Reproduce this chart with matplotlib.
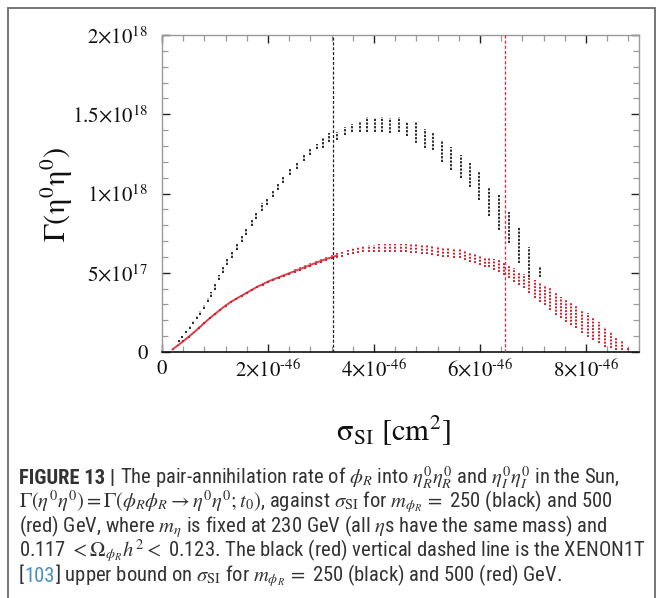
import numpy as np
import matplotlib
matplotlib.use('Agg')
import matplotlib.pyplot as plt
from matplotlib import font_manager
from matplotlib.patches import Rectangle
from matplotlib.ticker import MultipleLocator, FixedLocator, FixedFormatter

# ---------------- data (x in 1e-46 cm^2, y in 1e17) ----------------
black_x = [0.32, 0.38, 0.45, 0.52, 0.59, 0.66, 0.72, 0.79, 0.86, 0.93,
           1.00, 1.07, 1.15, 1.23, 1.32, 1.41, 1.50, 1.59, 1.69, 1.78,
           1.89, 1.98, 2.09, 2.19, 2.28, 2.41, 2.54, 2.67, 2.79, 2.92,
           3.04, 3.16, 3.30, 3.45, 3.58, 3.73, 3.87, 4.01, 4.15, 4.31,
           4.47, 4.62, 4.79, 4.96, 5.11, 5.28, 5.46, 5.64, 5.81, 5.99,
           6.17, 6.36, 6.54, 6.73, 6.92, 7.13]
black_lo = [0.60, 0.88, 1.17, 1.45, 1.75, 2.06, 2.36, 2.70, 3.14, 3.46,
            3.94, 4.52, 4.98, 5.52, 5.92, 6.42, 6.96, 7.36, 7.92, 8.42,
            8.92, 9.28, 9.80, 10.25, 10.65, 11.15, 11.55, 12.05, 12.4, 12.8,
            12.85, 13.27, 13.4, 13.7, 13.9, 13.9, 13.9, 13.9, 13.9, 13.8,
            13.85, 13.6, 13.2, 12.85, 12.75, 12.0, 11.5, 10.95, 10.4, 9.6,
            8.6, 7.7, 6.9, 5.6, 4.75, 4.75]
black_hi = [0.76, 1.04, 1.34, 1.63, 1.95, 2.27, 2.60, 2.96, 3.42, 3.78,
            4.28, 4.88, 5.38, 5.88, 6.33, 6.88, 7.38, 7.78, 8.38, 8.83,
            9.38, 9.72, 10.2, 10.65, 11.05, 11.55, 12.0, 12.45, 12.8, 13.15,
            13.5, 13.8, 13.9, 14.2, 14.4, 14.6, 14.8, 14.75, 14.85, 14.75,
            14.8, 14.5, 14.5, 14.1, 13.8, 13.4, 12.95, 12.4, 11.9, 11.4,
            10.4, 9.9, 8.85, 7.9, 6.64, 5.43]

red_x = [0.20, 0.30, 0.40, 0.50, 0.60, 0.70, 0.80, 0.90, 1.00, 1.10,
         1.20, 1.30, 1.40, 1.50, 1.60, 1.70, 1.80, 1.90, 2.00, 2.10,
         2.20, 2.30, 2.40, 2.50, 2.60, 2.70, 2.80, 2.90, 3.00, 3.10,
         3.20, 3.30, 3.40, 3.50, 3.60, 3.70, 3.80, 3.90, 4.00, 4.10,
         4.20, 4.30, 4.40, 4.50, 4.60, 4.70, 4.80, 4.90, 5.00, 5.10,
         5.20, 5.30, 5.40, 5.50, 5.62, 5.71, 5.81, 5.90, 6.00, 6.09,
         6.17, 6.26, 6.36, 6.45, 6.55, 6.64, 6.74, 6.83, 6.92, 7.03,
         7.13, 7.22, 7.33, 7.43, 7.52, 7.62, 7.72, 7.82, 7.92, 8.03,
         8.13, 8.25, 8.35, 8.47, 8.57, 8.68, 8.79]
red_lo = [0.12, 0.37, 0.63, 0.90, 1.17, 1.47, 1.77, 2.06, 2.33, 2.60,
          2.86, 3.08, 3.28, 3.47, 3.66, 3.85, 4.03, 4.19, 4.35, 4.49,
          4.61, 4.74, 4.87, 4.99, 5.12, 5.24, 5.37, 5.50, 5.62, 5.74,
          5.84, 5.93, 6.02, 6.10, 6.17, 6.23, 6.28, 6.31, 6.33, 6.34,
          6.34, 6.33, 6.32, 6.31, 6.29, 6.26, 6.23, 6.20, 6.17, 6.12,
          6.07, 6.02, 5.98, 5.94, 5.91, 5.80, 5.70, 5.60, 5.49, 5.38,
          5.34, 5.17, 5.07, 4.86, 4.65, 4.44, 4.23, 4.02, 3.70, 3.39,
          3.17, 2.97, 2.65, 2.33, 2.13, 1.91, 1.70, 1.50, 1.18, 0.97,
          0.76, 0.55, 0.33, 0.23, 0.13, 0.13, 0.13]
red_hi = [0.22, 0.47, 0.73, 1.00, 1.29, 1.59, 1.89, 2.20, 2.47, 2.74,
          3.00, 3.24, 3.44, 3.63, 3.82, 4.01, 4.21, 4.37, 4.53, 4.67,
          4.81, 4.94, 5.07, 5.21, 5.34, 5.48, 5.61, 5.74, 5.88, 6.00,
          6.12, 6.23, 6.34, 6.44, 6.53, 6.61, 6.68, 6.73, 6.77, 6.80,
          6.82, 6.83, 6.84, 6.83, 6.81, 6.80, 6.79, 6.76, 6.73, 6.70,
          6.67, 6.62, 6.58, 6.54, 6.54, 6.44, 6.33, 6.23, 6.12, 6.00,
          5.90, 5.85, 5.80, 5.70, 5.49, 5.28, 5.07, 4.90, 4.75, 4.54,
          4.44, 4.23, 4.02, 3.70, 3.49, 3.28, 3.17, 2.97, 2.65, 2.48,
          2.23, 1.91, 1.60, 1.28, 0.97, 0.76, 0.33]

black_bound = 3.22   # XENON1T bound, m = 250 GeV
red_bound = 6.47     # XENON1T bound, m = 500 GeV

xticks = [0, 2, 4, 6, 8]
xtick_labels = ['0', r'$2{\times}10^{\text{-}46}$', r'$4{\times}10^{\text{-}46}$',
                r'$6{\times}10^{\text{-}46}$', r'$8{\times}10^{\text{-}46}$']
yticks = [0, 5, 10, 15, 20]
ytick_labels = ['0', r'$5{\times}10^{17}$', r'$1{\times}10^{18}$',
                r'$1.5{\times}10^{18}$', r'$2{\times}10^{18}$']

XS = 1e-46
YS = 1e17

# ---------------- figure ----------------
W, H = 663, 598
plt.rcParams['mathtext.fontset'] = 'stix'
fig = plt.figure(figsize=(W / 100, H / 100), dpi=100)
fig.patch.set_facecolor('white')


def fx(x):
    return x / W


def fy(y):
    return 1 - y / H


# outer grey frame
fig.patches.append(Rectangle((fx(8), fy(640)), fx(655) - fx(8), fy(8) - fy(640),
                             transform=fig.transFigure, fill=False,
                             edgecolor='#6a6a6a', lw=1.3, zorder=0))

ax = fig.add_axes([fx(162), fy(352), fx(639) - fx(162), fy(35) - fy(352)])
ax.set_xlim(0, 9 * XS)
ax.set_ylim(0, 20 * YS)

bx = np.array(black_x) * XS
rx = np.array(red_x) * XS
blo = np.array(black_lo) * YS
bhi = np.array(black_hi) * YS
rlo = np.array(red_lo) * YS
rhi = np.array(red_hi) * YS

red_col = '#d41f2b'
rmid = (rlo + rhi) / 2
rising = np.array(red_x) <= 3.3
ax.plot(rx[rising], rmid[rising], color=red_col, lw=1.4, alpha=0.85, zorder=2)
ax.vlines(rx, rlo, rhi, colors=red_col, linestyles=(0, (1, 0.7)), lw=1.4, zorder=3)
ax.vlines(bx, blo, bhi, colors='#111111', linestyles=(0, (1.3, 0.8)), lw=1.25, zorder=3)

ax.axvline(black_bound * XS, color='#222222', lw=0.9, ls=(0, (2.4, 1.5)), zorder=4)
ax.axvline(red_bound * XS, color='#e3303c', lw=0.95, ls=(0, (2.4, 1.5)), zorder=4)

# ticks
ax.xaxis.set_major_locator(FixedLocator([v * XS for v in xticks]))
ax.xaxis.set_major_formatter(FixedFormatter(xtick_labels))
ax.xaxis.set_minor_locator(MultipleLocator(0.4 * XS))
ax.yaxis.set_major_locator(FixedLocator([v * YS for v in yticks]))
ax.yaxis.set_major_formatter(FixedFormatter(ytick_labels))
ax.yaxis.set_minor_locator(MultipleLocator(1 * YS))

ax.tick_params(which='both', direction='in', top=True, right=True)
ax.tick_params(which='major', length=5.5, width=1.0, color='#222222',
               labelsize=15, pad=5)
ax.tick_params(which='minor', length=4, width=0.9, color='#9a9a9a')
ax.tick_params(axis='y', which='major', pad=10)
for lab in ax.get_xticklabels() + ax.get_yticklabels():
    lab.set_fontfamily('STIXGeneral')
    lab.set_color('#111111')

for side in ['left', 'top', 'right']:
    ax.spines[side].set_color('#9a9a9a')
    ax.spines[side].set_linewidth(1.0)
ax.spines['bottom'].set_color('#111111')
ax.spines['bottom'].set_linewidth(1.2)

# axis titles (upright Greek as in the reference)
fig.text(fx(393), fy(441), 'σ$_{\\mathrm{SI}}$ [cm$^{2}$]', family='STIXGeneral',
         ha='center', va='baseline', fontsize=22, color='#111111')
fig.text(fx(57), fy(194), 'Γ(η$^{0}$η$^{0}$)', family='STIXGeneral', rotation=90,
         ha='center', va='center', fontsize=22, color='#111111')

# ---------------- caption ----------------
entries = font_manager.fontManager.ttflist
names = {f.name for f in entries}
cap_family = None
cap_stretch = 'normal'
for cand in ['Liberation Sans Narrow', 'Roboto Condensed', 'Open Sans Condensed',
             'Noto Sans Condensed', 'Arial Narrow']:
    if cand in names:
        cap_family = cand
        break
if cap_family is None:
    for f in entries:
        if f.name in ('DejaVu Sans', 'Noto Sans', 'Open Sans', 'Roboto') and \
                str(f.stretch) in ('condensed', 'semi-condensed'):
            cap_family = f.name
            cap_stretch = str(f.stretch)
            break
if cap_family is None:
    cap_family = 'Roboto'
cap_family = [cap_family, 'DejaVu Sans']
cap_color = '#333333'
link_color = '#4a8fc4'

fig.canvas.draw()
renderer = fig.canvas.get_renderer()


def put(x, y, s, size, color=cap_color, weight='normal'):
    t = fig.text(fx(x), fy(y), s, ha='left', va='baseline', fontsize=size,
                 color=color, family=cap_family, fontweight=weight,
                 fontstretch=cap_stretch)
    return t, t.get_window_extent(renderer).x1


lines = [
    [('FIGURE 13 |', cap_color, 'bold', 0),
     (r'The pair-annihilation rate of $\phi_R$ into '
      r'$\eta^0_R\eta^0_R$ and $\eta^0_I\eta^0_I$ in the Sun,', cap_color, 'normal', 5)],
    [(r'$\Gamma(\eta^0\eta^0) = \Gamma(\phi_R\phi_R \rightarrow '
      r'\eta^0\eta^0; t_0)$, against $\sigma_{\mathrm{SI}}$ for '
      r'$m_{\phi_R}\,=$ 250 (black) and 500', cap_color, 'normal', 0)],
    [(r'(red) GeV, where $m_\eta$ is fixed at 230 GeV (all '
      r'$\eta$s have the same mass) and', cap_color, 'normal', 0)],
    [(r'0.117 $<\Omega_{\phi_R}h^2<$ 0.123. The black (red) '
      r'vertical dashed line is the XENON1T', cap_color, 'normal', 0)],
    [('[', cap_color, 'normal', 0), ('103', link_color, 'normal', 0),
     (r'] upper bound on $\sigma_{\mathrm{SI}}$ for '
      r'$m_{\phi_R}\,=$ 250 (black) and 500 (red) GeV.', cap_color, 'normal', 0)],
]
right_edges = [645, 634, 633, 645, 501]
base = [483.5, 508, 532.5, 557, 581.5]
x0 = 19


def draw_line(segs, y, size):
    x = x0
    made = []
    for s, c, w, gap in segs:
        t, x = put(x + gap, y, s, size, color=c, weight=w)
        made.append(t)
    return made, x


trial = 12.0
fits = []
for segs, y, r in zip(lines, base, right_edges):
    made, xe = draw_line(segs, y, trial)
    fits.append(trial * (r - x0) / (xe - x0))
    for t in made:
        t.remove()
size = min(fits[:4])

for segs, y in zip(lines, base):
    draw_line(segs, y, size)

fig.savefig('out.png', dpi=100, facecolor='white')
